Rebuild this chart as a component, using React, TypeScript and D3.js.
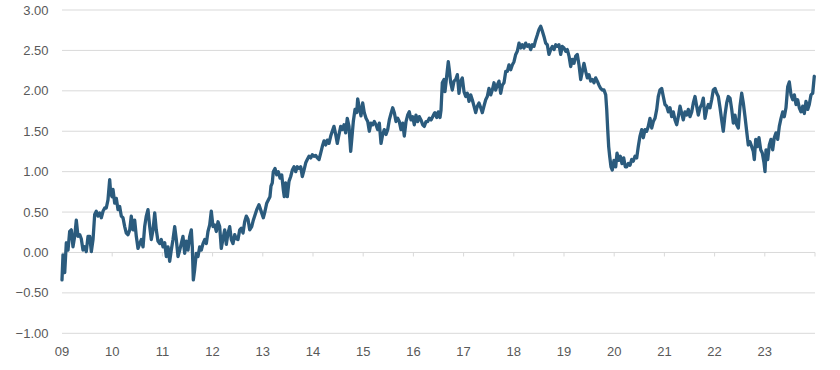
import React from "react";
import * as d3 from "d3";

// Time as years elapsed since start of 2009
const yearOffset: number[] = [
  0.000,0.020,0.054,0.086,0.120,0.153,0.185,0.219,0.253,0.285,0.319,0.353,0.384,0.418,0.452,0.484,0.518,0.552,0.584,0.618,
  0.651,0.683,0.717,0.751,0.783,0.817,0.851,0.882,0.916,0.950,0.970,0.996,1.016,1.050,1.082,1.116,1.149,1.181,1.215,1.249,
  1.281,1.315,1.349,1.380,1.414,1.448,1.480,1.514,1.548,1.580,1.614,1.647,1.679,1.713,1.747,1.779,1.813,1.847,1.878,1.912,
  1.946,1.978,2.012,2.046,2.078,2.112,2.145,2.177,2.211,2.245,2.277,2.311,2.345,2.376,2.410,2.444,2.476,2.510,2.544,2.576,
  2.596,2.616,2.643,2.675,2.709,2.743,2.775,2.809,2.843,2.875,2.908,2.942,2.974,3.008,3.042,3.074,3.108,3.141,3.173,3.207,
  3.241,3.273,3.307,3.341,3.373,3.406,3.440,3.472,3.506,3.540,3.572,3.606,3.639,3.671,3.705,3.739,
  3.779,3.811,3.879,3.924,3.978,4.010,4.044,4.078,4.110,4.143,4.163,4.189,4.209,4.243,4.277,4.309,4.343,4.377,4.408,4.428,
  4.456,4.488,4.522,4.556,4.588,4.622,4.655,4.687,4.721,4.755,4.787,4.821,4.855,4.886,4.920,4.954,4.986,5.020,5.054,5.086,
  5.120,5.153,5.185,5.219,5.253,5.285,5.319,5.353,5.384,5.418,5.452,5.484,5.518,5.552,5.584,5.618,5.651,5.683,5.717,5.751,
  5.771,5.803,5.837,5.871,5.890,5.922,5.956,5.990,6.022,6.056,6.090,6.122,6.155,6.189,6.221,6.255,6.289,6.321,6.355,6.388,
  6.420,6.454,6.488,6.520,6.554,6.588,6.620,6.653,6.687,6.719,6.753,6.787,6.819,6.853,6.886,6.918,6.952,6.986,7.018,7.052,
  7.086,7.118,7.151,7.185,7.217,7.251,7.285,7.317,7.351,7.384,7.416,
  7.430,7.464,7.496,7.530,7.550,7.576,7.610,7.629,7.663,7.695,7.715,7.743,7.775,7.809,7.843,7.875,7.908,7.942,7.974,8.008,
  8.042,8.074,8.108,8.141,8.173,8.207,8.241,8.273,8.307,8.341,8.373,8.406,8.440,8.472,8.506,8.540,8.572,8.606,8.639,8.671,
  8.705,8.739,8.771,8.805,8.839,8.871,8.904,8.938,8.970,9.004,9.038,9.070,9.104,9.137,9.169,9.203,9.237,9.269,9.303,9.337,
  9.369,9.402,9.436,9.468,9.502,9.536,9.568,9.602,9.635,9.667,9.701,9.735,9.767,9.801,9.835,9.867,9.900,9.934,9.966,10.000,
  10.034,10.066,10.100,10.133,10.165,10.199,10.233,10.265,10.299,10.333,10.365,10.398,10.432,10.464,10.498,10.532,10.564,10.598,10.631,10.663,
  10.697,10.731,10.763,10.797,10.831,10.851,10.871,10.890,10.910,10.936,10.962,10.996,11.030,11.056,11.090,11.122,11.155,11.189,11.221,
  11.249,11.281,11.315,11.349,11.380,11.414,11.448,11.480,11.514,11.548,11.580,11.614,11.647,11.679,11.713,11.747,11.779,11.813,11.847,11.878,
  11.912,11.946,11.978,12.012,12.046,12.078,12.112,12.145,12.177,12.211,12.245,12.277,12.311,12.345,12.376,12.410,12.444,12.476,12.510,12.544,
  12.576,12.610,12.643,12.675,12.709,12.743,12.775,12.809,12.843,12.875,12.908,12.942,12.974,13.008,13.042,13.074,13.108,13.141,13.173,13.207,
  13.241,13.273,13.307,13.341,13.373,13.406,13.440,13.472,13.506,13.540,13.572,13.606,13.639,13.671,13.705,13.739,13.771,13.791,13.819,13.851,
  13.884,13.918,13.950,13.984,14.004,14.024,14.058,14.090,14.124,14.157,14.189,14.223,14.257,14.289,14.323,14.357,14.388,14.422,14.456,14.488,
  14.522,14.556,14.588,14.622,14.655,14.687,14.721,14.755,14.787,14.821,14.855,14.886,14.920,14.954,14.986,
];

const values: number[] = [
  -0.34,-0.03,-0.25,0.12,0.03,0.26,0.28,0.07,0.20,0.40,0.20,0.22,0.17,0.03,0.07,0.01,0.20,0.20,0.01,0.16,
  0.47,0.51,0.45,0.49,0.43,0.51,0.55,0.55,0.65,0.90,0.73,0.69,0.78,0.61,0.67,0.53,0.57,0.45,0.43,0.32,
  0.24,0.22,0.28,0.45,0.28,0.40,0.20,0.05,0.11,0.16,0.07,0.32,0.45,0.53,0.32,0.16,0.28,0.49,0.28,0.14,
  0.11,0.16,0.07,0.12,-0.05,0.07,-0.11,0.03,0.16,0.32,0.16,-0.05,0.03,0.11,0.20,-0.01,0.14,0.03,0.20,0.28,
  0.07,-0.34,-0.21,-0.01,-0.05,0.07,0.03,0.11,0.16,0.11,0.26,0.34,0.51,0.32,0.34,0.26,0.38,0.32,0.05,0.17,
  0.28,0.10,0.24,0.32,0.16,0.11,0.22,0.17,0.16,0.28,0.30,0.24,0.38,0.45,0.41,0.28,
  0.32,0.40,0.53,0.59,0.49,0.43,0.51,0.61,0.65,0.69,0.82,0.86,1.00,1.04,0.96,1.00,0.92,0.96,0.78,0.69,
  0.86,0.69,0.88,0.94,1.02,1.06,1.00,1.06,1.04,1.06,0.94,1.02,1.11,1.15,1.19,1.17,1.21,1.19,1.20,1.17,
  1.15,1.23,1.31,1.38,1.33,1.39,1.35,1.44,1.50,1.56,1.46,1.35,1.46,1.56,1.52,1.58,1.48,1.66,1.56,1.25,
  1.39,1.62,1.77,1.73,1.90,1.79,1.69,1.85,1.73,1.66,1.62,1.50,1.60,1.58,1.62,1.58,1.52,1.60,1.35,1.46,
  1.52,1.46,1.52,1.64,1.72,1.79,1.73,1.62,1.66,1.62,1.52,1.60,1.44,1.62,1.70,1.74,1.64,1.68,1.58,1.70,
  1.62,1.68,1.64,1.58,1.56,1.62,1.62,1.66,1.64,1.68,1.72,
  1.73,1.67,1.74,1.67,1.76,2.10,2.14,1.99,2.18,2.36,2.26,2.10,2.01,2.12,2.14,2.20,1.97,2.12,2.16,1.99,
  1.93,1.97,1.87,1.95,1.89,1.81,1.73,1.81,1.85,1.79,1.73,1.81,1.89,1.93,2.03,1.95,2.01,2.10,2.01,2.07,
  2.12,1.97,2.07,2.10,2.24,2.24,2.32,2.26,2.32,2.36,2.45,2.49,2.59,2.53,2.57,2.53,2.59,2.55,2.57,2.51,
  2.57,2.55,2.63,2.69,2.76,2.80,2.74,2.67,2.59,2.57,2.45,2.51,2.55,2.51,2.57,2.55,2.57,2.45,2.55,2.53,
  2.49,2.51,2.43,2.30,2.39,2.34,2.43,2.45,2.32,2.14,2.24,2.34,2.24,2.16,2.20,2.12,2.14,2.10,2.16,2.12,
  2.07,2.03,2.01,2.01,1.95,1.77,1.52,1.31,1.19,1.06,1.02,1.14,1.06,1.23,1.14,1.19,1.10,1.17,1.06,
  1.06,1.10,1.08,1.15,1.13,1.19,1.17,1.31,1.44,1.52,1.42,1.52,1.50,1.56,1.66,1.54,1.62,1.66,1.77,1.93,
  2.01,2.03,1.93,1.83,1.81,1.74,1.79,1.68,1.74,1.64,1.58,1.68,1.81,1.72,1.64,1.74,1.70,1.77,1.68,1.74,
  1.85,1.93,1.81,1.70,1.79,1.83,1.91,1.66,1.77,1.83,1.79,1.89,2.01,2.03,1.97,1.93,1.79,1.64,1.50,1.70,
  1.85,1.93,1.91,1.77,1.60,1.70,1.58,1.54,1.81,1.97,1.85,1.68,1.50,1.33,1.37,1.31,1.25,1.15,1.40,1.31,
  1.42,1.27,1.23,1.11,1.00,1.27,1.15,1.33,1.40,1.27,1.42,1.48,1.40,1.56,1.66,1.74,1.68,1.79,2.05,2.11,
  1.95,1.89,1.95,1.83,1.89,1.79,1.74,1.81,1.72,1.87,1.77,1.83,1.95,1.97,2.18,
];

const startYear = 2009;
const yearLabels: string[] = ["09","10","11","12","13","14","15","16","17","18","19","20","21","22","23"];
const yTicks: number[] = [-1, -0.5, 0, 0.5, 1, 1.5, 2, 2.5, 3];

export default function App() {
  const W = 840, H = 370;
  const x = d3.scaleLinear().domain([startYear, startYear + 15]).range([62, 815]);
  const y = d3.scaleLinear().domain([-1, 3]).range([333.3, 10]);
  const pts: [number, number][] = yearOffset.map((t, i) => [startYear + t, values[i]]);
  const line = d3.line<[number, number]>().x(d => x(d[0])).y(d => y(d[1]));
  const font = "'Liberation Sans', Arial, sans-serif";
  const tickYears = d3.range(0, 16).map(i => startYear + i);
  return (
    <svg width={W} height={H} style={{ position: "absolute", left: 0, top: 0, background: "#fff" }}>
      {yTicks.map(v => (
        <g key={v}>
          <line x1={62} x2={815} y1={y(v)} y2={y(v)} stroke="#d9d9d9" strokeWidth={1} />
          <text x={48.5} y={y(v)} dy="0.35em" textAnchor="end" fontFamily={font} fontSize={13} fill="#595959">
            {d3.format(".2f")(v)}
          </text>
        </g>
      ))}
      {tickYears.map(yr => (
        <line key={yr} x1={x(yr)} x2={x(yr)} y1={y(0)} y2={y(0) + 4} stroke="#d9d9d9" strokeWidth={1} />
      ))}
      {yearLabels.map((lab, i) => (
        <text key={lab} x={x(startYear + i)} y={356} textAnchor="middle" fontFamily={font} fontSize={13} fill="#595959">
          {lab}
        </text>
      ))}
      <path d={line(pts) || ""} fill="none" stroke="#2B5B7D" strokeWidth={3.3} strokeLinejoin="round" strokeLinecap="round" />
    </svg>
  );
}
